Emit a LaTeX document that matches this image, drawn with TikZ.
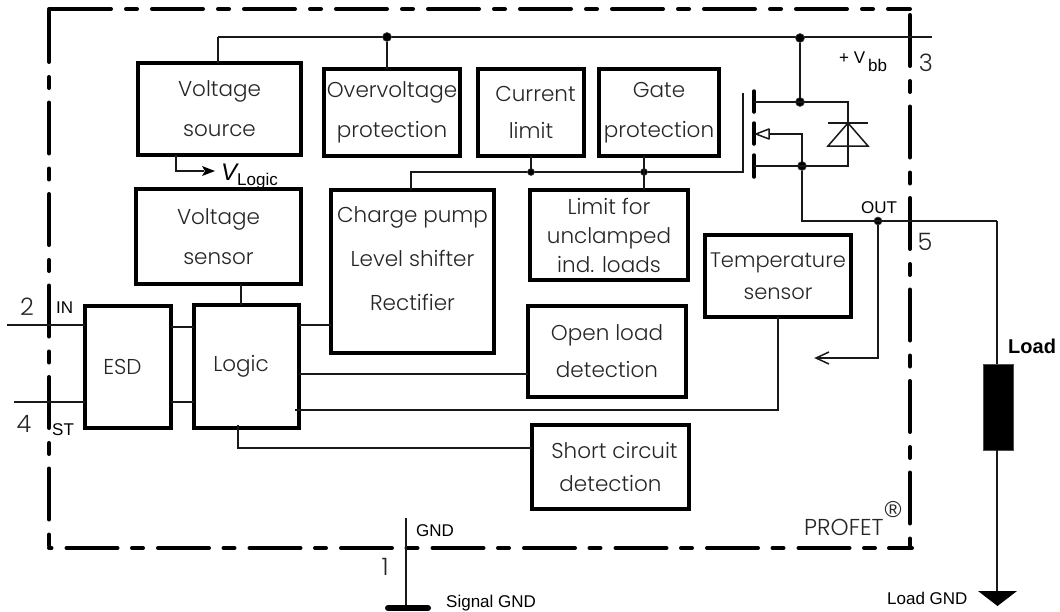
\documentclass[tikz,border=0pt]{standalone}
\usepackage{fontspec}
\setmainfont{Liberation Sans}
\newfontfamily\boxfont{Poppins Light}
\tikzset{
  blk/.style n args={4}{draw=black,line width=4pt,inner sep=0pt,outer sep=0pt,align=center,
    text=black!85,font=\boxfont\fontsize{21.5}{40}\selectfont,
    minimum width={(#3-#1)*1pt},minimum height={(#4-#2)*1pt},
    at={({(#1+#3)/2},{(#2+#4)/2})}},
  wire/.style={draw=black!90,line width=1.5pt},
  frameline/.style={line width=4pt,line cap=round,draw=black},
  dashtop/.style={frameline,dash pattern=on 51pt off 15pt on 11pt off 15pt},
  dashside/.style={frameline,dash pattern=on 51pt off 15pt on 11pt off 14.5pt},
  dashbot/.style={frameline,dash pattern=on 11pt off 14.5pt on 51pt off 15pt},
  junction/.style={circle,fill=black,draw=black!70,line width=.6pt,minimum size=9pt,inner sep=0pt,outer sep=0pt},
  pinnum/.style={inner sep=0pt,text=black!85,font=\boxfont\fontsize{24}{24}\selectfont},
  small/.style={inner sep=0pt,font=\fontsize{17}{17}\selectfont},
  gatebar/.style={line width=3.5pt,line cap=round,draw=black},
}
\begin{document}
\begin{tikzpicture}[x=1pt,y=-1pt]
\useasboundingbox (0,0) rectangle (1060,611);
\fill[white] (0,0) rectangle (1060,611);

% frame
\coordinate (fTL) at (49,9); \coordinate (fTS) at (60,9); \coordinate (fTR) at (910,9);
\coordinate (fRT) at (910,15); \coordinate (fRB) at (910,548);
\coordinate (fBR) at (912,548); \coordinate (fBM) at (889,548); \coordinate (fBS) at (875,548); \coordinate (fBL) at (49,548);
\coordinate (fLT) at (49,11); \coordinate (fLB) at (49,548);
\draw[frameline] (fTL) -- (fTS);
\draw[dashtop] (fTS) -- (fTR);
\draw[dashside] (fRT) -- (fRB);
\draw[frameline] (fBR) -- (fBM);
\draw[dashbot] (fBS) -- (fBL);
\draw[dashside] (fLT) -- (fLB);

% blocks
\node[blk={138}{63}{301}{155}] (vsrc) {Voltage\\source};
\node[blk={324}{69}{460}{156}] (ovp) {Overvoltage\\protection};
\node[blk={478}{69}{584}{156},font=\boxfont\fontsize{21.5}{37}\selectfont] (clim) {\hspace*{9pt}Current\\limit};
\node[blk={599}{69}{719}{156}] (gprot) {Gate\\protection};
\node[blk={136}{189}{301}{284}] (vsens) {Voltage\\sensor};
\node[blk={331}{190}{494}{353},font=\boxfont\fontsize{21.5}{44}\selectfont] (cp) {Charge pump\\Level shifter\\Rectifier\\[-18pt]\mbox{}};
\node[blk={530}{190}{688}{280},font=\boxfont\fontsize{21.5}{29}\selectfont] (lim) {Limit for\\unclamped\\ind. loads};
\node[blk={705}{235}{851}{317},font=\boxfont\fontsize{21}{32}\selectfont] (temp) {Temperature\\sensor};
\node[blk={528}{306}{686}{397},font=\boxfont\fontsize{21.5}{37}\selectfont] (open) {Open load\\detection};
\node[blk={532}{425}{689}{509},font=\boxfont\fontsize{21.5}{33}\selectfont] (short) {\hspace*{8pt}Short circuit\\detection};
\node[blk={85}{306}{171}{428}] (esd) {\hspace*{-11pt}\raisebox{-3pt}{ESD}};
\node[blk={194}{305}{299}{428}] (logic) {\hspace*{-11pt}\raisebox{-3pt}{Logic}};

% block-to-block wires
\coordinate (lnA) at (171,327); \coordinate (lnB) at (171,402);
\draw[wire] (lnA) -- (lnA -| logic.west);
\draw[wire] (lnB) -- (lnB -| logic.west);
\coordinate (sensL) at (241,284);
\draw[wire] (vsens.south -| sensL) -- (logic.north -| sensL);
\coordinate (cpIn) at (299,325);
\draw[wire] (cpIn) -- (cpIn -| cp.west);
\coordinate (olIn) at (299,374);
\draw[wire] (olIn) -- (olIn -| open.west);
\coordinate (tIn) at (295,410); \coordinate (tUp) at (778,410);
\draw[wire] (tIn) -- (tUp) -- (tUp |- temp.south);
\coordinate (scA) at (238,425); \coordinate (scB) at (238,448);
\draw[wire] (scA) -- (scB) -- (scB -| short.west);

% V logic
\coordinate (vlA) at (176,155); \coordinate (vlB) at (176,171); \coordinate (vlC) at (204,171); \coordinate (vlTip) at (215,171);
\draw[wire] (vsrc.south -| vlA) -- (vlB) -- (vlC);
\fill[black] (vlTip) -- (202,166) -- (205,171) -- (202,176) -- cycle;
\node[inner sep=0pt,anchor=base west,font=\fontsize{24}{24}\selectfont] (vlV) at (221,180) {\itshape V};
\node[inner sep=0pt,anchor=base west,font=\fontsize{17}{17}\selectfont] (vlS) at (237,185) {Logic};

% supply rail
\coordinate (railL) at (218,37); \coordinate (railR) at (932,37);
\draw[wire] (railL) -- (railR);
\draw[wire] (railL) -- (railL |- vsrc.north);
\node[junction] (j1) at (387,37) {};
\draw[wire] (j1) -- (j1 |- ovp.north);
\node[junction] (j2) at (800,38) {};
\node[junction] (j3) at (800,102) {};
\node[junction] (j4) at (802,166) {};
\draw[wire] (j2) -- (j3);

% MOSFET
\coordinate (barA1) at (754,91); \coordinate (barA2) at (754,112);
\coordinate (barB1) at (754,123); \coordinate (barB2) at (754,144);
\coordinate (barC1) at (754,155); \coordinate (barC2) at (754,177);
\draw[gatebar] (barA1) -- (barA2);
\draw[gatebar] (barB1) -- (barB2);
\draw[gatebar] (barC1) -- (barC2);
\coordinate (dTop) at (848,102); \coordinate (dBot) at (848,166);
\draw[wire] (j3 -| barA1) -- (dTop) -- (dBot) -- (j4 -| barC1);
\coordinate (arrowTip) at (756,134); \coordinate (arrowBase) at (769,134);
\coordinate (srcCorner) at (802,134);
\draw[wire] (arrowBase) -- (srcCorner) -- (j4);
\draw[wire,fill=white,line join=round] (arrowTip) -- (769,129) -- (769,139) -- cycle;
\draw[wire] (828,123) -- (868,123);
\draw[wire,line join=miter] (848,123) -- (828,146) -- (868,146) -- cycle;

% gate drive
\coordinate (gTop) at (743,93); \coordinate (gCorner) at (743,172); \coordinate (gLeft) at (411,172);
\draw[wire] (gTop) -- (gCorner) -- (gLeft) -- (gLeft |- cp.north);
\node[junction,minimum size=7pt] (j5) at (531,172) {};
\node[junction,minimum size=7pt] (j6) at (644,172) {};
\draw[wire] (j5) -- (j5 |- clim.south);
\draw[wire] (j6 |- gprot.south) -- (j6 |- lim.north);

% output
\node[junction,minimum size=8pt] (j7) at (878,221) {};
\coordinate (outC) at (802,221); \coordinate (outR) at (997,221);
\draw[wire] (j4) -- (outC) -- (outR);
\coordinate (fbC) at (878,358); \coordinate (fbTip) at (816,358);
\draw[wire] (j7) -- (fbC) -- (fbTip);
\coordinate (fbA) at (829,352); \coordinate (fbB) at (829,364);
\draw[wire,line join=miter] (fbA) -- (fbTip) -- (fbB);

% load
\node[draw=black!70,fill=black,line width=1pt,inner sep=0pt,outer sep=0pt,minimum width=30pt,minimum height=86pt] (load) at (998,407) {};
\coordinate (gndTop) at (997,592);
\draw[wire] (outR) -- (outR |- load.north);
\draw[wire] (outR |- load.south) -- (gndTop);
\fill[black] (978,591) -- (1017,591) -- (997.5,606) -- cycle;
\node[inner sep=0pt,anchor=base west,font=\bfseries\fontsize{20}{20}\selectfont] (loadT) at (1008,353) {Load};
\node[small,anchor=base west] (lgnd) at (887,604) {Load GND};

% pins
\coordinate (pIN) at (7,325); \coordinate (pST) at (14,402);
\draw[wire] (pIN) -- (pIN -| esd.west);
\draw[wire] (pST) -- (pST -| esd.west);
\node[pinnum] (n2) at (27,307) {2};
\node[pinnum] (n4) at (24,424) {4};
\node[pinnum] (n3) at (926,63) {3};
\node[pinnum] (n5) at (925,242) {5};
\node[pinnum] (n1) at (385,567) {1};
\node[small,anchor=base west] (lIN) at (56,313) {IN};
\node[small,anchor=base west] (lST) at (52,435) {ST};
\node[small,anchor=base west] (lOUT) at (861,213) {OUT};
\node[small,anchor=base west] (lVbb) at (839,63) {+ V};
\node[inner sep=0pt,anchor=base west,font=\fontsize{17}{17}\selectfont] (lbb) at (868,71) {bb};

% ground
\coordinate (gA) at (406,518); \coordinate (gB) at (406,608);
\draw[wire] (gA) -- (gB);
\coordinate (gbL) at (388,608); \coordinate (gbR) at (428,608);
\draw[line width=6pt,line cap=round,draw=black] (gbL) -- (gbR);
\node[small,anchor=base west] (lGND) at (416,536) {GND};
\node[small,anchor=base west] (lSig) at (446,607) {Signal GND};

% brand
\node[inner sep=0pt,anchor=base west,text=black!85,font=\boxfont\fontsize{23}{23}\selectfont] (brand) at (804,535) {PROFET};
\node[inner sep=0pt,text=black!85,font=\fontsize{23}{23}\selectfont] (reg) at (893,510) {®};
\end{tikzpicture}
\end{document}
